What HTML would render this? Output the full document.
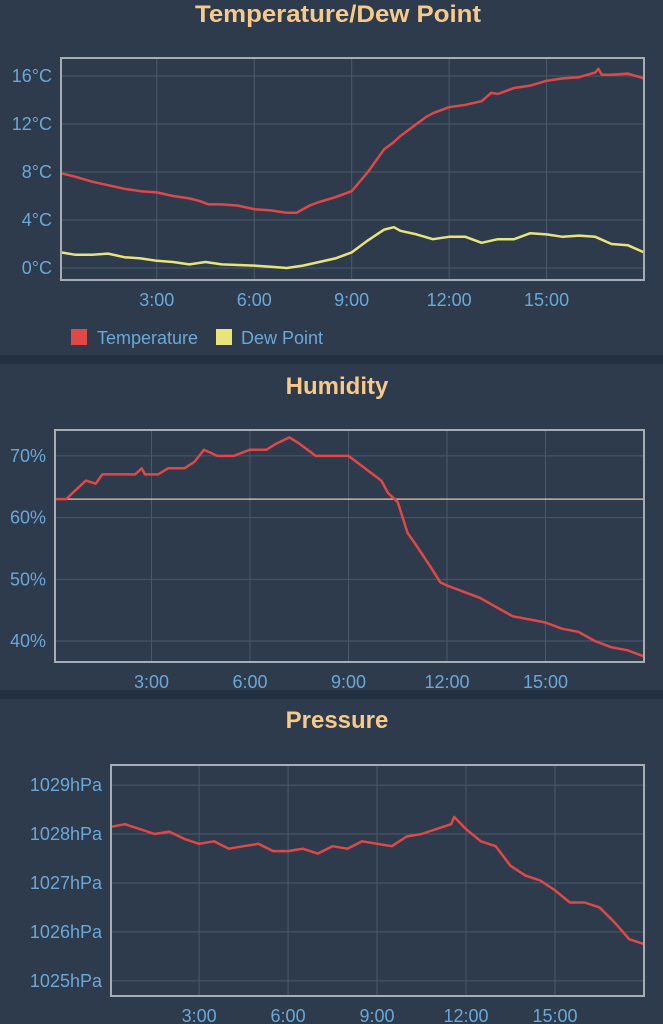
<!DOCTYPE html>
<html><head><meta charset="utf-8"><style>
html,body{margin:0;padding:0;background:#2d3b4c;}
svg{display:block;}
text{font-family:"Liberation Sans",sans-serif;}
</style></head><body>
<svg id="root" width="663" height="1024" viewBox="0 0 663 1024">
<rect x="0" y="0" width="663" height="1024" fill="#2d3b4c"/>
<rect x="0" y="355" width="663" height="9" fill="#233040"/>
<rect x="0" y="690" width="663" height="9" fill="#233040"/>
<text x="338" y="22" text-anchor="middle" font-size="24" font-weight="bold" fill="#f7c98b" textLength="286" lengthAdjust="spacingAndGlyphs">Temperature/Dew Point</text>
<text x="337" y="394" text-anchor="middle" font-size="24" font-weight="bold" fill="#f7c98b">Humidity</text>
<text x="337" y="728" text-anchor="middle" font-size="24" font-weight="bold" fill="#f7c98b">Pressure</text>
<g>
<rect x="71" y="329" width="16" height="16" fill="#e04848"/>
<text x="97" y="344" font-size="18" fill="#6aa8d8">Temperature</text>
<rect x="216" y="329" width="16" height="16" fill="#e8e47a"/>
<text x="241" y="344" font-size="18" fill="#6aa8d8">Dew Point</text>
</g>
</svg>
<script>
// Temperature / dew point
const tempHours = [0.05,0.5,1,1.16,1.5,2,2.5,3,3.5,4,4.3,4.6,5,5.5,6,6.5,7,7.3,7.7,8,8.5,9,9.5,10,10.3,10.5,11,11.3,11.5,12,12.5,13,13.3,13.5,14,14.5,15,15.5,16,16.5,16.6,16.7,17,17.5,18];
const tempValues = [7.9,7.6,7.2,7.1,6.9,6.6,6.4,6.3,6.0,5.8,5.6,5.3,5.3,5.2,4.9,4.8,4.6,4.6,5.2,5.5,5.9,6.4,8.0,9.9,10.5,11.0,12.0,12.6,12.9,13.4,13.6,13.9,14.6,14.5,15.0,15.2,15.6,15.8,15.9,16.3,16.6,16.1,16.1,16.2,15.8];
const dewHours = [0.05,0.5,1,1.5,2,2.5,3,3.5,4,4.5,5,5.5,6,6.5,7,7.5,8,8.5,9,9.5,10,10.3,10.5,11,11.5,12,12.5,13,13.5,14,14.5,15,15.5,16,16.5,17,17.5,18];
const dewValues = [1.3,1.1,1.1,1.2,0.9,0.8,0.6,0.5,0.3,0.5,0.3,0.25,0.2,0.1,0.0,0.2,0.5,0.8,1.3,2.3,3.2,3.4,3.1,2.8,2.4,2.6,2.6,2.1,2.4,2.4,2.9,2.8,2.6,2.7,2.6,2.0,1.9,1.3];
const tempTicks = [0,4,8,12,16];
const timeTicks = [3,6,9,12,15];
const timeTickLabels = ["3:00","6:00","9:00","12:00","15:00"];
// Humidity
const humHours = [0.05,0.4,0.6,1,1.3,1.5,2,2.5,2.7,2.8,3.2,3.5,4,4.3,4.6,5,5.5,6,6.5,6.8,7.2,7.5,8,8.5,9,9.5,10,10.2,10.5,10.8,11,11.5,11.8,12,12.5,13,13.5,14,14.5,15,15.5,16,16.5,17,17.5,18];
const humValues = [63,63,64,66,65.5,67,67,67,68,67,67,68,68,69,71,70,70,71,71,72,73,72,70,70,70,68,66,64,62.5,57.5,56,52,49.5,49,48,47,45.5,44,43.5,43,42,41.5,40,39,38.5,37.5];
const humTicks = [40,50,60,70];
const humReference = [63];
// Pressure
const presHours = [0.05,0.5,1,1.5,2,2.5,3,3.5,4,4.5,5,5.5,6,6.5,7,7.5,8,8.5,9,9.5,10,10.5,11,11.5,11.6,12,12.5,13,13.5,14,14.5,15,15.5,16,16.5,17,17.5,18];
const presValues = [1028.15,1028.2,1028.1,1028.0,1028.05,1027.9,1027.8,1027.85,1027.7,1027.75,1027.8,1027.65,1027.65,1027.7,1027.6,1027.75,1027.7,1027.85,1027.8,1027.75,1027.95,1028.0,1028.1,1028.2,1028.35,1028.1,1027.85,1027.75,1027.35,1027.15,1027.05,1026.85,1026.6,1026.6,1026.5,1026.2,1025.85,1025.75];
const presTicks = [1025,1026,1027,1028,1029];

const NS = "http://www.w3.org/2000/svg";
const root = document.getElementById('root');
function mk(tag, attrs, parent){
  const e = document.createElementNS(NS, tag);
  for (const k in attrs) e.setAttribute(k, attrs[k]);
  (parent||root).appendChild(e);
  return e;
}
function chart(cfg){
  const g = mk('g', {});
  
  
  const {x0,x1,y0,y1,tMin,tMax,vMin,vMax} = cfg;
  const sx = t => x0 + (t - tMin) / (tMax - tMin) * (x1 - x0);
  const sy = v => y1 - (v - vMin) / (vMax - vMin) * (y1 - y0);
  cfg.yTicks.forEach((v) => {
    const l = mk('line', {x1:x0, x2:x1, y1:sy(v), y2:sy(v), stroke:'#4b5a6b', 'stroke-width':1}, g);
    
    
    const t = mk('text', {x:cfg.labelX, y:sy(v)+6, 'text-anchor':'end', 'font-size':18, fill:'#6aa8d8'}, g);
    t.textContent = cfg.fmt(v);
    
    
  });
  timeTicks.forEach((h, i) => {
    const l = mk('line', {x1:sx(h), x2:sx(h), y1:y0, y2:y1, stroke:'#4b5a6b', 'stroke-width':1}, g);
    
    
    const t = mk('text', {x:sx(h), y:y1+26, 'text-anchor':'middle', 'font-size':18, fill:'#6aa8d8'}, g);
    t.textContent = timeTickLabels[i];
    
    
  });
  (cfg.refs||[]).forEach(v => {
    const l = mk('line', {x1:x0, x2:x1, y1:sy(v), y2:sy(v), stroke:'#f0c8a0', 'stroke-width':1.2}, g);
    
    
  });
  cfg.series.forEach(s => {
    const d = s.xs.map((t,i) => (i?'L':'M') + sx(t).toFixed(1) + ',' + sy(s.ys[i]).toFixed(1)).join(' ');
    const p = mk('path', {d, fill:'none', stroke:s.color, 'stroke-width':2.5, 'stroke-linejoin':'round'}, g);
    
    
  });
  const b = mk('rect', {x:x0, y:y0, width:x1-x0, height:y1-y0, fill:'none', stroke:'#a8adb3', 'stroke-width':2}, g);
  
  
}
chart({name:'temperature-chart', x0:61, x1:644, y0:58, y1:280, tMin:0.05, tMax:18, vMin:-1, vMax:17.5,
  labelX:52, yTicks:tempTicks, fmt:v=>v+'°C',
  series:[{name:'temperature-line', xs:tempHours, ys:tempValues, color:'#e04848'},
          {name:'dew-point-line', xs:dewHours, ys:dewValues, color:'#e8e47a'}]});
chart({name:'humidity-chart', x0:55, x1:644, y0:430, y1:662, tMin:0.06, tMax:18, vMin:36.6, vMax:74.2,
  labelX:46, yTicks:humTicks, fmt:v=>v+'%', refs:humReference,
  series:[{name:'humidity-line', xs:humHours, ys:humValues, color:'#e04848'}]});
chart({name:'pressure-chart', x0:111, x1:644, y0:765, y1:996, tMin:0.03, tMax:18, vMin:1024.69, vMax:1029.41,
  labelX:102, yTicks:presTicks, fmt:v=>v+'hPa',
  series:[{name:'pressure-line', xs:presHours, ys:presValues, color:'#e04848'}]});
</script>
</body></html>
